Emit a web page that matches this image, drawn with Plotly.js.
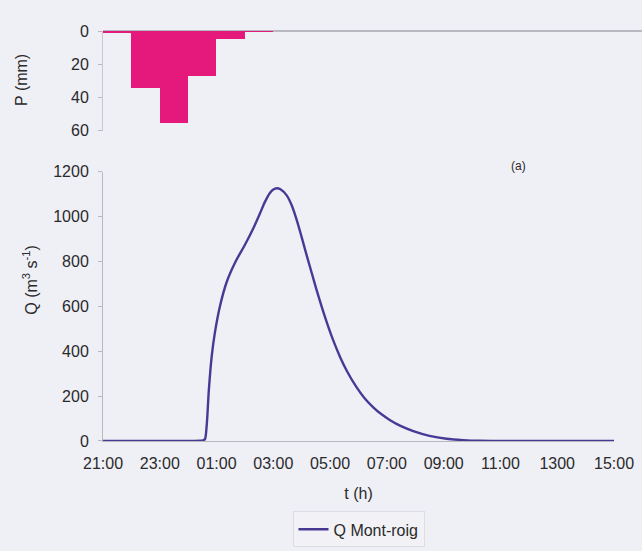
<!DOCTYPE html>
<html><head><meta charset="utf-8">
<script src="https://cdn.plot.ly/plotly-3.0.1.min.js"></script>
<style>html,body{margin:0;padding:0;background:#efeff6;}#chart{width:642px;height:551px;}</style>
</head><body><div id="chart"></div>
<script>
// Time in hours after 21:00
var rainHours = [0.5, 1.5, 2.5, 3.5, 4.5, 5.5];
var rainMM = [1, 34, 55, 27, 5, 0.8];

var qHours = [0, 3.0, 3.42, 3.52, 3.59, 3.65, 3.73, 3.83, 3.94, 4.12, 4.36, 4.65, 5.0, 5.3, 5.53, 5.7, 5.88, 6.0, 6.12, 6.25, 6.47, 6.65, 6.82, 7.0, 7.17, 7.35, 7.52, 7.7, 7.88, 8.1, 8.35, 8.6, 8.93, 9.2, 9.52, 9.8, 10.1, 10.5, 10.93, 11.5, 12.1, 12.69, 13.27, 18];
var qValues = [0, 0, 1, 3, 8, 65, 230, 378, 482, 601, 710, 795, 875, 950, 1015, 1065, 1106, 1121, 1127, 1122, 1095, 1050, 987, 908, 830, 750, 675, 600, 530, 452, 375, 310, 240, 193, 150, 120, 94, 66, 44, 23, 10, 4, 1, 0];

var xTickVals = [0, 2, 4, 6, 8, 10, 12, 14, 16, 18];
var xTickText = ["21:00", "23:00", "01:00", "03:00", "05:00", "07:00", "09:00", "11:00", "1300", "15:00"];
var pTicks = [0, 20, 40, 60];
var qTicks = [0, 200, 400, 600, 800, 1000, 1200];

var fontFam = "Liberation Sans, Arial, sans-serif";
var txt = "#2a2a2a";

var traces = [
  {type: "bar", x: rainHours, y: rainMM, width: 1, xaxis: "x2", yaxis: "y2",
   marker: {color: "#e5197c", line: {width: 0}}, showlegend: false, hoverinfo: "skip"},
  {type: "scatter", mode: "lines", x: qHours, y: qValues, xaxis: "x", yaxis: "y",
   name: "Q Mont-roig", line: {color: "#473a95", width: 2.4, shape: "spline", smoothing: 0.8}}
];

var layout = {
  width: 642, height: 551,
  paper_bgcolor: "#efeff6", plot_bgcolor: "#efeff6",
  margin: {l: 103, r: 0, t: 31, b: 109.5},
  font: {family: fontFam, size: 16, color: txt},
  bargap: 0,
  xaxis: {domain: [0, 511/539], range: [0, 18], anchor: "y",
    tickvals: xTickVals, ticktext: xTickText, ticks: "", showgrid: false, zeroline: false,
    showline: true, linecolor: "#b8b8c0", linewidth: 1, ticklabelstandoff: 8,
    tickfont: {size: 16, color: txt},
    title: {text: "t (h)", font: {size: 16, color: txt}, standoff: 16}},
  yaxis: {domain: [0, 269.5/410.5], range: [0, 1200], anchor: "x",
    tickvals: qTicks, ticks: "outside", ticklen: 4, tickcolor: "#b8b8c0",
    showgrid: false, zeroline: false, showline: true, linecolor: "#b8b8c0", linewidth: 1,
    tickfont: {size: 16, color: txt}, ticklabelstandoff: 6},
  xaxis2: {domain: [0, 1], range: [0, 19], anchor: "y2", showticklabels: false, ticks: "",
    showgrid: false, zeroline: false, showline: false},
  yaxis2: {domain: [(441.5-131)/410.5, 1], range: [60, 0], anchor: "x2",
    tickvals: pTicks, ticks: "outside", ticklen: 4, tickcolor: "#b8b8c0",
    showgrid: false, zeroline: true, zerolinecolor: "#b8b8c0", zerolinewidth: 1.5,
    showline: true, linecolor: "#c8c8d0", linewidth: 1,
    tickfont: {size: 16, color: txt}, ticklabelstandoff: 6},
  showlegend: true,
  legend: {orientation: "h", x: 255.5/539, xanchor: "center", y: (441.5-530)/410.5, yanchor: "middle",
    bgcolor: "#f1f1f6", bordercolor: "#dcdce4", borderwidth: 1, font: {size: 16, color: txt},
    itemwidth: 30},
  annotations: [
    {text: "P (mm)", xref: "paper", yref: "paper", x: (22-103)/539, y: (441.5-80)/410.5,
     textangle: -90, showarrow: false, font: {size: 16, color: txt}, xanchor: "center", yanchor: "middle"},
    {text: "Q (m<sup>3</sup> s<sup>-1</sup>)", xref: "paper", yref: "paper", x: (30-103)/539, y: (441.5-280)/410.5,
     textangle: -90, showarrow: false, font: {size: 16, color: txt}, xanchor: "center", yanchor: "middle"},
    {text: "(a)", xref: "paper", yref: "paper", x: (518-103)/539, y: (441.5-166)/410.5,
     showarrow: false, font: {size: 12, color: txt}, xanchor: "center", yanchor: "middle"}
  ]
};

Plotly.newPlot("chart", traces, layout, {displayModeBar: false, staticPlot: true});
</script></body></html>
